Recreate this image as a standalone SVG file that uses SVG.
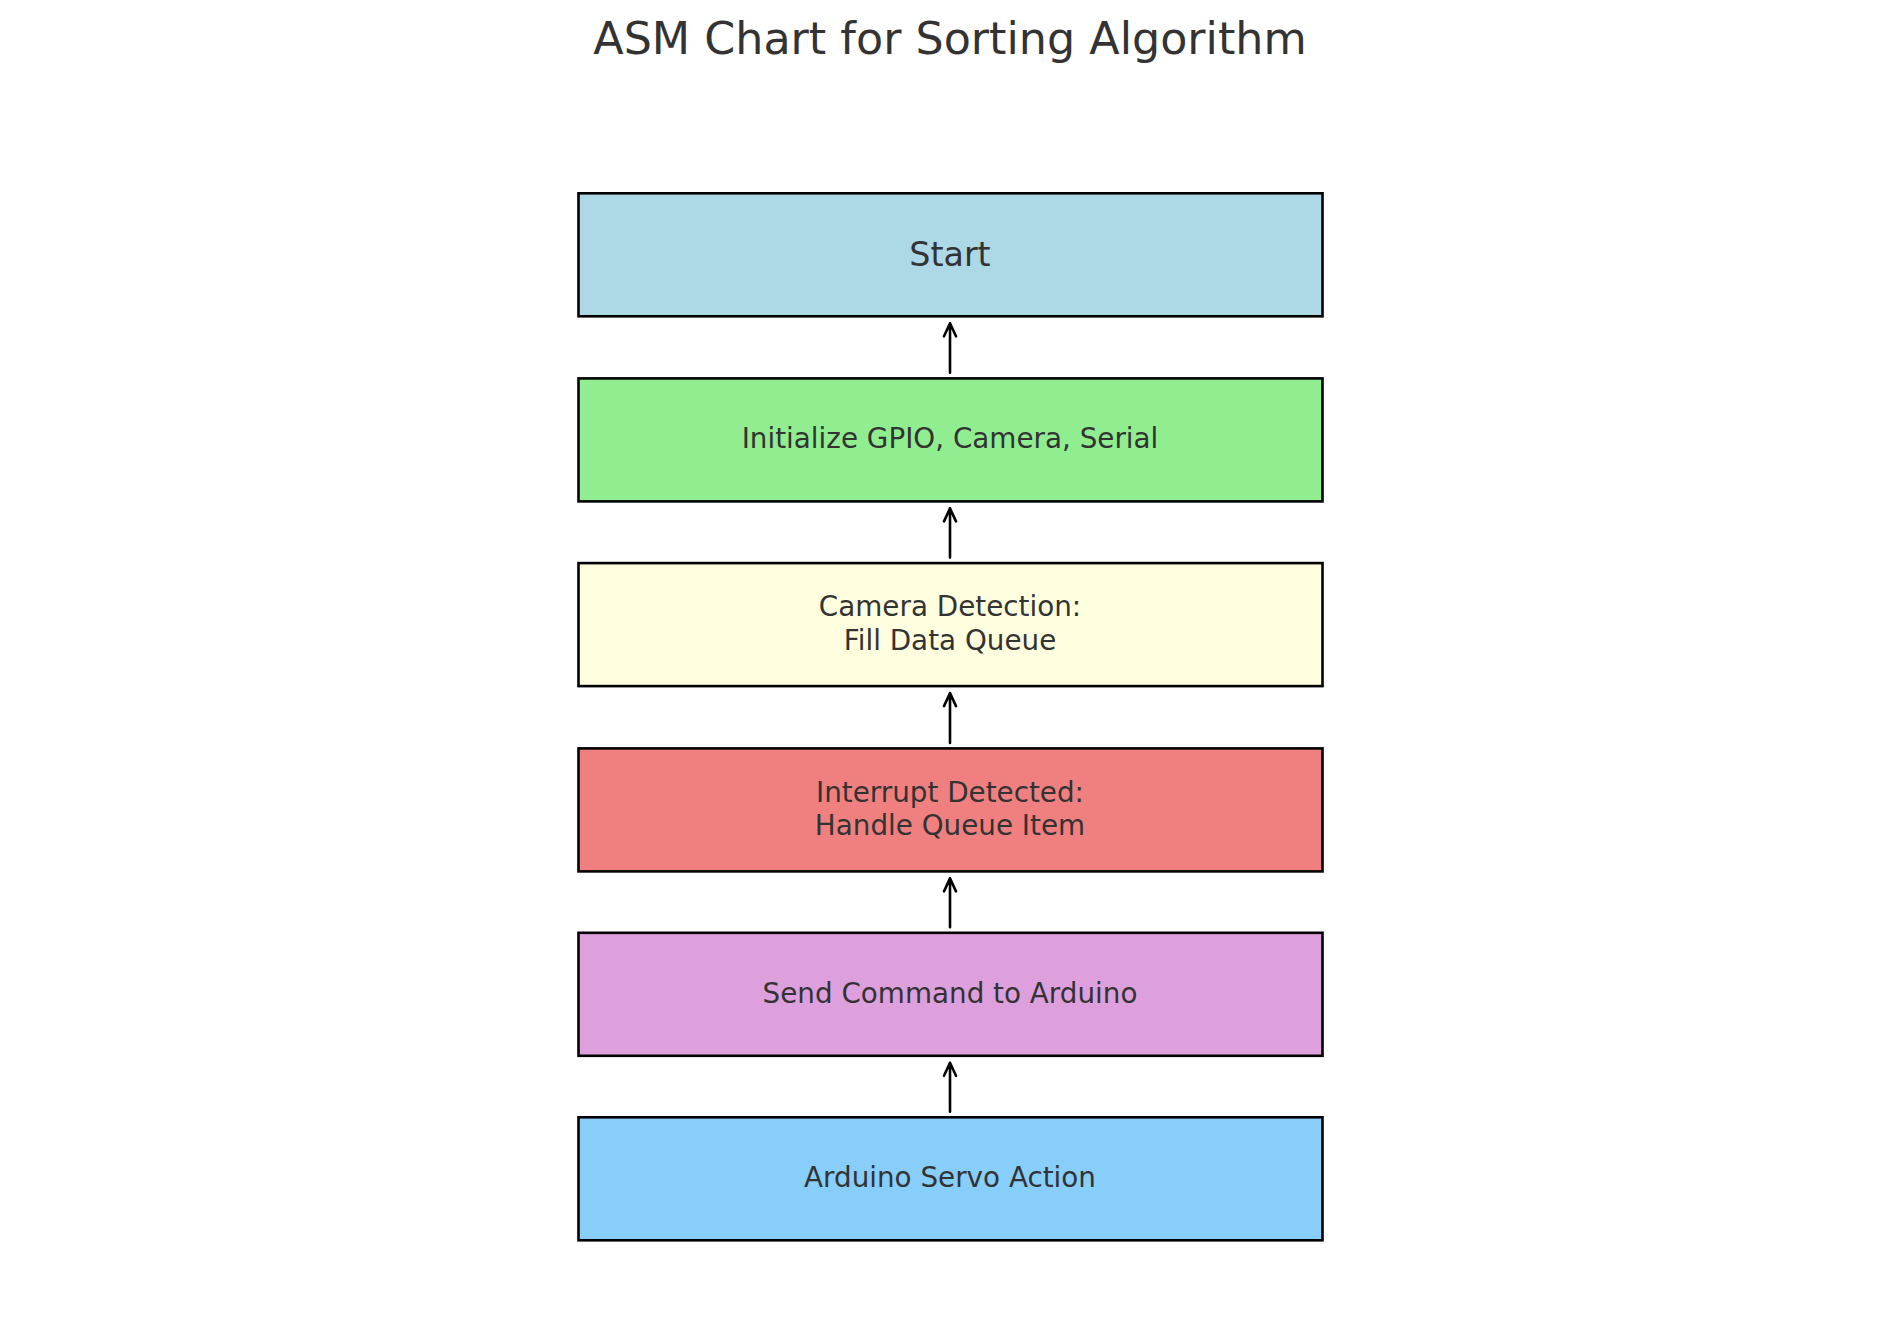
<svg xmlns="http://www.w3.org/2000/svg" width="1900" height="1322" viewBox="0 0 1900 1322">
<style>
.box{stroke:#000;stroke-width:2.6}
.t{font-family:"DejaVu Sans","Liberation Sans",sans-serif;font-size:27.8px;fill:#333333;text-anchor:middle}
.title{font-family:"DejaVu Sans","Liberation Sans",sans-serif;font-size:44.4px;fill:#333333;text-anchor:middle}
.c{stroke:#000;stroke-width:2.6;fill:none;stroke-linecap:round;stroke-linejoin:round}
</style>
<rect width="1900" height="1322" fill="#ffffff"/>
<text class="title" x="950" y="53.5">ASM Chart for Sorting Algorithm</text>
<g id="start">
<rect class="box" x="578.5" y="193.3" width="744" height="123" fill="#ADD8E6"/>
<text class="t" x="950" y="266" style="font-size:33.3px">Start</text>
</g>
<g id="init">
<rect class="box" x="578.5" y="378.4" width="744" height="123" fill="#90EE90"/>
<text class="t" x="950" y="448.3">Initialize GPIO, Camera, Serial</text>
</g>
<g id="camera">
<rect class="box" x="578.5" y="563.1" width="744" height="123" fill="#FFFFE0"/>
<text class="t" x="950" y="616.2">Camera Detection:</text>
<text class="t" x="950" y="649.5">Fill Data Queue</text>
</g>
<g id="interrupt">
<rect class="box" x="578.5" y="748.4" width="744" height="123" fill="#F08080"/>
<text class="t" x="950" y="801.6">Interrupt Detected:</text>
<text class="t" x="950" y="834.9">Handle Queue Item</text>
</g>
<g id="send">
<rect class="box" x="578.5" y="932.8" width="744" height="123" fill="#DDA0DD"/>
<text class="t" x="950" y="1002.7">Send Command to Arduino</text>
</g>
<g id="servo">
<rect class="box" x="578.5" y="1117.3" width="744" height="123" fill="#87CEFA"/>
<text class="t" x="950" y="1187.2">Arduino Servo Action</text>
</g>
<g id="connectors">
<path class="c" d="M950 372.7V323.3M944 336.3L950 323.3L956 336.3"/>
<path class="c" d="M950 557.6V508.4M944 521.4L950 508.4L956 521.4"/>
<path class="c" d="M950 742.9V693.1M944 706.1L950 693.1L956 706.1"/>
<path class="c" d="M950 927.3V878.4M944 891.4L950 878.4L956 891.4"/>
<path class="c" d="M950 1111.8V1062.8M944 1075.8L950 1062.8L956 1075.8"/>
</g>
</svg>
